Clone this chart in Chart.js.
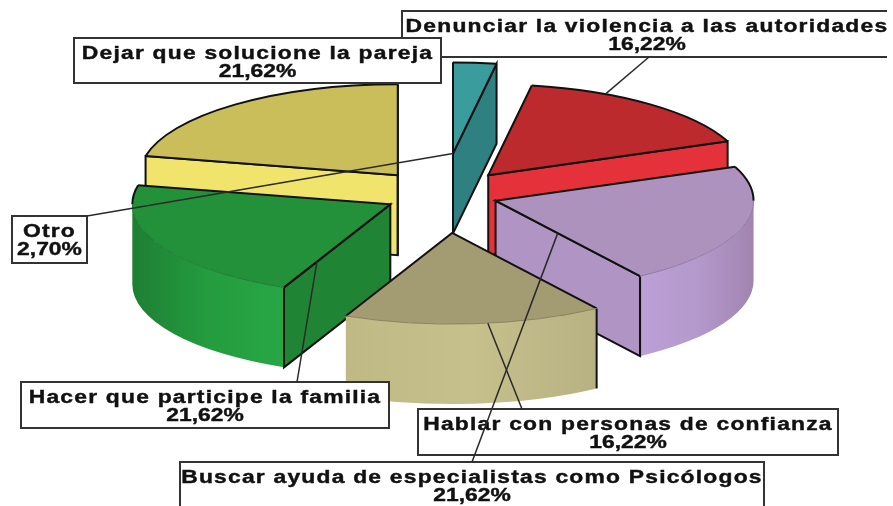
<!DOCTYPE html>
<html>
<head>
<meta charset="utf-8">
<style>
  html, body { margin: 0; padding: 0; background: #fff; overflow: hidden; }
  #wrap { width: 893px; height: 506px; }
</style>
<script src="https://cdn.jsdelivr.net/npm/chart.js@4"></script>
</head>
<body>
<div id="wrap"><canvas id="chart" width="893" height="506"></canvas></div>
<script>
// data, clockwise from the top
const categories = ['Otro', 'Denunciar la violencia a las autoridades', 'Buscar ayuda de especialistas como Psicólogos',
    'Hablar con personas de confianza', 'Hacer que participe la familia', 'Dejar que solucione la pareja'];
const percentages = [2.70, 16.22, 21.62, 16.22, 21.62, 21.62];

// 3d look
const squash = 0.353;
const depth = 80;
const explode = [118, 72, 55, 108, 59, 72];
const paintOrder = [5, 0, 1, 4, 2, 3];
const topColors = ['#3a9c9c', '#bc2a2d', '#ae92be', '#a39b72', '#23903a', '#c9be5a'];
const faceColors = ['#2f8080', '#e4313a', '#af94c4', '#a39b72', '#1f8534', '#f0e46c'];
const wallStops = [
    ['#2f8080', '#2f8080'],
    ['#e4313a', '#e4313a'],
    ['#bca0d6', '#b499cc', '#a184af'],
    ['#bfb985', '#c6c08c', '#b8b283'],
    ['#1e7f33', '#249c3f', '#28a745'],
    ['#f0e46c', '#f0e46c']
];
const softEdges = ['#1d6b6b', '#8a1c1e', '#8f78a0', '#8a835e', '#1a7a30', '#8a8340'];

// label boxes: slice index, box, leader anchor (fraction of the slice angle, fraction of the radius)
const labelBoxes = [
    { i: 1, x: 402, y: 11, w: 485, h: 46, cx: 647, open: true, lead: [649, 57], anchor: [0.296, 1] },
    { i: 5, x: 74, y: 38, w: 367, h: 45 },
    { i: 0, x: 12, y: 216, w: 75, h: 47, lead: [87, 216], anchor: [0, 0] },
    { i: 4, x: 21, y: 382, w: 368, h: 46, lead: [297, 382], anchor: [0, 0.69] },
    { i: 3, x: 418, y: 409, w: 420, h: 46, lead: [522, 409], anchor: [0.447, 1] },
    { i: 2, x: 180, y: 462, w: 584, h: 46, lead: [472, 462], anchor: [1, 0.43] }
];

const fontSize = 18;
const textStretch = 1.27;
const nameSpacing = 0.95;

function sliceOrigin(arc, i) {
    const mid = (arc.startAngle + arc.endAngle) / 2;
    return { x: arc.x + Math.cos(mid) * explode[i], y: arc.y + Math.sin(mid) * explode[i] * squash };
}

function rimPoint(o, r, a) {
    return { x: o.x + Math.cos(a) * r, y: o.y + Math.sin(a) * r * squash };
}

function drawFace(ctx, o, r, a, color) {
    const p = rimPoint(o, r, a);
    ctx.beginPath();
    ctx.moveTo(o.x, o.y);
    ctx.lineTo(p.x, p.y);
    ctx.lineTo(p.x, p.y + depth);
    ctx.lineTo(o.x, o.y + depth);
    ctx.closePath();
    ctx.fillStyle = color;
    ctx.fill();
    ctx.strokeStyle = '#111';
    ctx.lineWidth = 2;
    ctx.stroke();
}

function drawWall(ctx, o, r, s, e, stops) {
    const from = Math.max(s, 0);
    const to = Math.min(e, Math.PI);
    if (to <= from) return;
    const a = rimPoint(o, r, from);
    const b = rimPoint(o, r, to);
    const left = to >= Math.PI ? o.x - r : b.x;
    const right = from <= 0 ? o.x + r : a.x;
    const grad = ctx.createLinearGradient(left, 0, right, 0);
    stops.forEach((c, n) => grad.addColorStop(n / (stops.length - 1), c));
    ctx.beginPath();
    ctx.ellipse(o.x, o.y, r, r * squash, 0, from, to);
    ctx.lineTo(b.x, b.y + depth);
    ctx.ellipse(o.x, o.y + depth, r, r * squash, 0, to, from, true);
    ctx.closePath();
    ctx.fillStyle = grad;
    ctx.fill();
    // the corners where the wall meets a cut face are black, the silhouette is not
    ctx.strokeStyle = '#111';
    ctx.lineWidth = 2;
    if (from > 0) { ctx.beginPath(); ctx.moveTo(a.x, a.y); ctx.lineTo(a.x, a.y + depth); ctx.stroke(); }
    if (to < Math.PI && Math.cos(to) > 0) { ctx.beginPath(); ctx.moveTo(b.x, b.y); ctx.lineTo(b.x, b.y + depth); ctx.stroke(); }
}

function drawTopEdges(ctx, o, r, s, e, soft) {
    const p1 = rimPoint(o, r, s);
    const p2 = rimPoint(o, r, e);
    ctx.strokeStyle = '#111';
    ctx.lineWidth = 2;
    ctx.beginPath();
    ctx.moveTo(p1.x, p1.y);
    ctx.lineTo(o.x, o.y);
    ctx.lineTo(p2.x, p2.y);
    ctx.stroke();
    // back half of the rim is black, the front half only a darker shade
    if (s < 0) {
        ctx.beginPath();
        ctx.ellipse(o.x, o.y, r, r * squash, 0, s, Math.min(e, 0));
        ctx.stroke();
    }
    if (e > Math.PI) {
        ctx.beginPath();
        ctx.ellipse(o.x, o.y, r, r * squash, 0, Math.max(s, Math.PI), e);
        ctx.stroke();
    }
    const from = Math.max(s, 0);
    const to = Math.min(e, Math.PI);
    if (to > from) {
        ctx.strokeStyle = soft;
        ctx.lineWidth = 1;
        ctx.beginPath();
        ctx.ellipse(o.x, o.y, r, r * squash, 0, from, to);
        ctx.stroke();
    }
}

function formatPct(v) {
    return v.toFixed(2).replace('.', ',') + '%';
}

function drawBox(ctx, b) {
    ctx.save();
    ctx.fillStyle = '#fff';
    ctx.fillRect(b.x, b.y, b.w, b.h);
    ctx.strokeStyle = '#333';
    ctx.lineWidth = 2;
    ctx.beginPath();
    if (b.open) {
        ctx.moveTo(b.x + b.w, b.y);
        ctx.lineTo(b.x, b.y);
        ctx.lineTo(b.x, b.y + b.h);
        ctx.lineTo(b.x + b.w, b.y + b.h);
    } else {
        ctx.rect(b.x, b.y, b.w, b.h);
    }
    ctx.stroke();
    ctx.beginPath();
    ctx.rect(b.x, b.y, b.w, b.h);
    ctx.clip();
    ctx.fillStyle = '#111';
    ctx.strokeStyle = '#111';
    ctx.lineWidth = 0.4;
    ctx.font = 'bold ' + fontSize + 'px "Liberation Sans", Arial, sans-serif';
    ctx.textAlign = 'center';
    ctx.textBaseline = 'alphabetic';
    const cx = b.cx || b.x + b.w / 2;
    [[categories[b.i], b.y + 21, nameSpacing], [formatPct(percentages[b.i]), b.y + 39, 0]].forEach(line => {
        ctx.save();
        ctx.letterSpacing = line[2] + 'px';
        ctx.translate(cx, line[1]);
        ctx.scale(textStretch, 1);
        ctx.fillText(line[0], 0, 0);
        ctx.strokeText(line[0], 0, 0);
        ctx.restore();
    });
    ctx.restore();
}

const pie3d = {
    id: 'pie3d',
    beforeDatasetDraw(chart, args) {
        const ctx = chart.ctx;
        const arcs = args.meta.data;
        paintOrder.forEach(i => {
            const arc = arcs[i];
            const s = arc.startAngle, e = arc.endAngle, r = arc.outerRadius;
            const o = sliceOrigin(arc, i);
            // faces that look towards the viewer
            if (Math.cos(s) <= 0.001) drawFace(ctx, o, r, s, faceColors[i]);
            if (Math.cos(e) >= -0.001) drawFace(ctx, o, r, e, faceColors[i]);
            drawWall(ctx, o, r, s, e, wallStops[i]);
            ctx.save();
            ctx.translate(o.x, o.y);
            ctx.scale(1, squash);
            ctx.translate(-arc.x, -arc.y);
            arc.draw(ctx);
            ctx.restore();
            drawTopEdges(ctx, o, r, s, e, softEdges[i]);
        });
        labelBoxes.forEach(b => drawBox(ctx, b));
        // leaders go over the boxes
        labelBoxes.filter(b => b.lead).forEach(b => {
            const arc = arcs[b.i];
            const o = sliceOrigin(arc, b.i);
            const a = arc.startAngle + (arc.endAngle - arc.startAngle) * b.anchor[0];
            const p = rimPoint(o, arc.outerRadius * b.anchor[1], a);
            ctx.strokeStyle = '#2a2a2a';
            ctx.lineWidth = 1.5;
            ctx.beginPath();
            ctx.moveTo(b.lead[0], b.lead[1]);
            ctx.lineTo(p.x, p.y);
            ctx.stroke();
        });
        return false;
    }
};

const myChart = new Chart(document.getElementById('chart'), {
    type: 'pie',
    data: {
        labels: categories,
        datasets: [{
            data: percentages,
            backgroundColor: topColors,
            borderWidth: 0
        }]
    },
    options: {
        responsive: false,
        animation: false,
        events: [],
        radius: 258,
        layout: { padding: { right: 7, bottom: 116 } },
        plugins: { legend: { display: false }, tooltip: { enabled: false } }
    },
    plugins: [pie3d]
});
</script>
</body>
</html>
